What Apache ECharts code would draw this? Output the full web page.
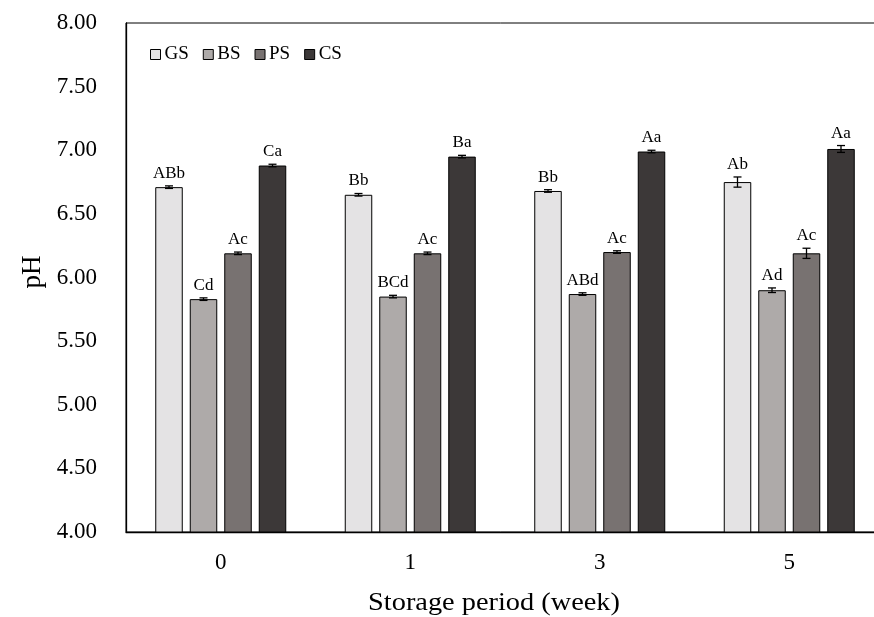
<!DOCTYPE html>
<html>
<head>
<meta charset="utf-8">
<script src="https://cdn.jsdelivr.net/npm/echarts@6/dist/echarts.min.js"></script>
<style>html,body{margin:0;padding:0;background:#fff}#c{width:874px;height:617px}</style>
</head>
<body>
<div id="c"></div>
<script>
const categories = ['0', '1', '3', '5'];
const seriesNames = ['GS', 'BS', 'PS', 'CS'];
const GS = [6.71, 6.65, 6.68, 6.75];
const BS = [5.83, 5.85, 5.87, 5.90];
const PS = [6.19, 6.19, 6.20, 6.19];
const CS = [6.88, 6.95, 6.99, 7.01];
const GS_err = [0.01, 0.01, 0.01, 0.04];
const BS_err = [0.01, 0.01, 0.01, 0.018];
const PS_err = [0.01, 0.01, 0.01, 0.04];
const CS_err = [0.01, 0.01, 0.01, 0.027];
const GS_lab = ['ABb', 'Bb', 'Bb', 'Ab'];
const BS_lab = ['Cd', 'BCd', 'ABd', 'Ad'];
const PS_lab = ['Ac', 'Ac', 'Ac', 'Ac'];
const CS_lab = ['Ca', 'Ba', 'Aa', 'Aa'];
const yTicks = [4, 4.5, 5, 5.5, 6, 6.5, 7, 7.5, 8];

const values = [GS, BS, PS, CS];
const errs = [GS_err, BS_err, PS_err, CS_err];
const labs = [GS_lab, BS_lab, PS_lab, CS_lab];
const colors = ['#e4e3e4', '#aeaaa9', '#787271', '#3c3838'];
const FONT = '"Liberation Serif", "Times New Roman", serif';
const BAR_W = 27.5, GAP = 7;

const chart = echarts.init(document.getElementById('c'));
const series = [];
values.forEach((vals, si) => {
  series.push({
    name: seriesNames[si], type: 'bar', data: vals,
    barWidth: BAR_W, barGap: (GAP / BAR_W * 100) + '%',
    itemStyle: { color: colors[si], borderColor: '#000', borderWidth: 1 },
    z: 2
  });
});
values.forEach((vals, si) => {
  const offset = (si - 1.5) * (BAR_W + GAP);
  series.push({
    type: 'custom', name: seriesNames[si] + '_err', z: 5,
    data: vals.map((v, i) => [i, v, errs[si][i]]),
    renderItem: function (params, api) {
      const xi = api.value(0), v = api.value(1), e = api.value(2);
      const c = api.coord([xi, v]);
      const x = c[0] + offset;
      const yHi = api.coord([xi, v + e])[1];
      const yLo = api.coord([xi, v - e])[1];
      const cap = 4;
      const ls = { stroke: '#000', lineWidth: 1.3 };
      return {
        type: 'group',
        children: [
          { type: 'line', shape: { x1: x, y1: yHi, x2: x, y2: yLo }, style: ls },
          { type: 'line', shape: { x1: x - cap, y1: yHi, x2: x + cap, y2: yHi }, style: ls },
          { type: 'line', shape: { x1: x - cap, y1: yLo, x2: x + cap, y2: yLo }, style: ls },
          { type: 'text', x: x, y: yHi - 4, style: { text: labs[si][xi], fill: '#000', font: '17px ' + FONT, textAlign: 'center', textVerticalAlign: 'bottom' } }
        ]
      };
    }
  });
});

chart.setOption({
  animation: false,
  backgroundColor: '#fff',
  grid: { left: 126, top: 23, width: 758, height: 509, outerBoundsMode: 'none', containLabel: false, show: true, borderColor: '#000', borderWidth: 1, backgroundColor: 'transparent' },
  legend: {
    data: seriesNames, left: 145, top: 40, icon: 'rect', itemWidth: 10, itemHeight: 10, itemGap: 14,
    textStyle: { fontFamily: FONT, fontSize: 19, color: '#000', padding: [0, 0, 0, -1] },
    itemStyle: { borderColor: '#000', borderWidth: 1 }
  },
  xAxis: {
    type: 'category', data: categories,
    axisLine: { lineStyle: { color: '#000', width: 1.3 } },
    axisTick: { show: false },
    axisLabel: { fontFamily: FONT, fontSize: 23, color: '#000', margin: 19 }
  },
  yAxis: {
    type: 'value', min: yTicks[0], max: yTicks[yTicks.length - 1], interval: 0.5,
    axisLine: { show: true, lineStyle: { color: '#000', width: 1.3 } },
    axisTick: { show: false },
    splitLine: { show: false },
    axisLabel: { fontFamily: FONT, fontSize: 23, color: '#000', margin: 29, formatter: v => v.toFixed(2) }
  },
  graphic: [
    { type: 'text', x: 33, y: 272, rotation: Math.PI / 2, style: { text: 'pH', font: '27px ' + FONT, fill: '#000', textAlign: 'center', textVerticalAlign: 'middle' } },
    { type: 'text', x: 494, y: 603, scaleX: 1.09, style: { text: 'Storage period (week)', font: '26px ' + FONT, fill: '#000', textAlign: 'center', textVerticalAlign: 'middle' } }
  ],
  series: series
});
</script>
</body>
</html>
